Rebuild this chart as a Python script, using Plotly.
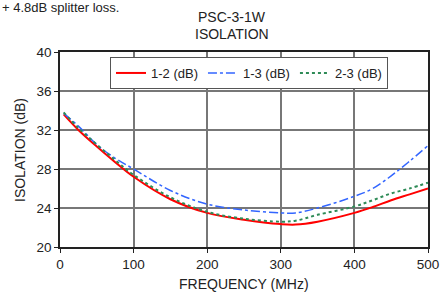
import plotly.graph_objects as go

freq = [5, 25, 50, 75, 100, 150, 200, 250, 300, 320, 350, 400, 425, 450, 475, 500]
iso_12 = [33.6, 32.0, 30.3, 28.7, 27.2, 24.9, 23.5, 22.8, 22.35, 22.3, 22.6, 23.5, 24.1, 24.8, 25.4, 26.0]
iso_13 = [33.7, 32.4, 30.5, 29.1, 28.0, 25.8, 24.4, 23.8, 23.5, 23.5, 24.0, 25.2, 26.0, 27.3, 28.8, 30.4]
iso_23 = [33.8, 32.2, 30.5, 28.9, 27.4, 25.1, 23.6, 22.9, 22.6, 22.7, 23.3, 24.15, 24.8, 25.5, 26.0, 26.6]

fig = go.Figure()
fig.add_trace(go.Scatter(x=freq, y=iso_12, mode="lines", name="1-2 (dB)",
                         line=dict(color="#ff0000", width=2, shape="spline")))
fig.add_trace(go.Scatter(x=freq, y=iso_13, mode="lines", name="1-3 (dB)",
                         line=dict(color="#3366ff", width=1.5, dash="dashdot", shape="spline")))
fig.add_trace(go.Scatter(x=freq, y=iso_23, mode="lines", name="2-3 (dB)",
                         line=dict(color="#2e8b57", width=2, dash="dot", shape="spline")))

W, H = 440, 299
# plot area in page pixels: x 60..428, y 52..247
L, R, T, B = 60, 440 - 428, 52, 299 - 247
pw, ph = W - L - R, H - T - B

def px_x(px):
    return (px - L) / pw

def px_y(py):
    return (H - B - py) / ph

fig.update_layout(
    width=W, height=H,
    margin=dict(l=L, r=R, t=T, b=B, autoexpand=False),
    paper_bgcolor="white", plot_bgcolor="white",
    font=dict(family="Liberation Sans, Arial, sans-serif", size=13, color="#222"),
    showlegend=True,
    legend=dict(orientation="h", x=px_x(110), xanchor="left", y=px_y(57), yanchor="top",
                bordercolor="#555", borderwidth=1, bgcolor="white",
                font=dict(size=13), tracegroupgap=0),
    xaxis=dict(range=[0, 500], tickvals=[0, 100, 200, 300, 400, 500],
               showgrid=True, gridcolor="#777", gridwidth=1.5,
               showline=True, linecolor="#222", linewidth=1.5, mirror=True,
               ticks="outside", ticklen=4, tickcolor="#222", automargin=False,
               tickfont=dict(size=13.5), zeroline=False),
    yaxis=dict(range=[20, 40], tickvals=[20, 24, 28, 32, 36, 40],
               showgrid=True, gridcolor="#777", gridwidth=1.5,
               showline=True, linecolor="#222", linewidth=1.5, mirror=True,
               ticks="outside", ticklen=4, tickcolor="#222", automargin=False,
               tickfont=dict(size=13.5), zeroline=False),
    annotations=[
        dict(text="+ 4.8dB splitter loss.", xref="paper", yref="paper",
             x=px_x(0), y=px_y(8), xanchor="left", yanchor="middle",
             showarrow=False, font=dict(size=13)),
        dict(text="PSC-3-1W", xref="paper", yref="paper",
             x=px_x(232), y=px_y(17), xanchor="center", yanchor="middle",
             showarrow=False, font=dict(size=14)),
        dict(text="ISOLATION", xref="paper", yref="paper",
             x=px_x(232), y=px_y(34), xanchor="center", yanchor="middle",
             showarrow=False, font=dict(size=14)),
        dict(text="FREQUENCY (MHz)", xref="paper", yref="paper",
             x=px_x(244), y=px_y(284), xanchor="center", yanchor="middle",
             showarrow=False, font=dict(size=14)),
        dict(text="ISOLATION (dB)", xref="paper", yref="paper",
             x=px_x(20), y=px_y(150), xanchor="center", yanchor="middle",
             textangle=-90, showarrow=False, font=dict(size=14)),
    ]
)

fig.write_html("out.html",
               config={"displayModeBar": False},
               post_script="document.body.style.margin='0';document.body.style.overflow='hidden';")
